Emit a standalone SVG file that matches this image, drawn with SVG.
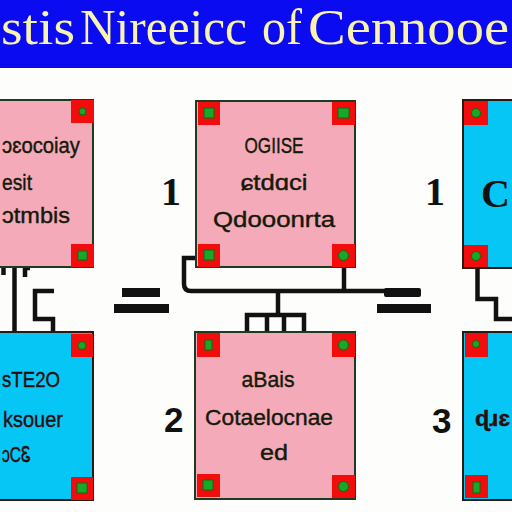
<svg xmlns="http://www.w3.org/2000/svg" width="512" height="512" viewBox="0 0 512 512">
<style>
.pink{fill:#f5aab9;stroke:#1e3a22;stroke-width:2}
.blue{fill:#05c6f5;stroke:#2a1a12;stroke-width:2}
.red{fill:#f20c0c}
.grn{fill:#18a828;stroke:#0c6a14;stroke-width:1}
.t{font-family:"Liberation Sans",Arial,sans-serif;font-size:22px;fill:#141a0a;stroke:#141a0a;stroke-width:0.4}
.tb{font-family:"Liberation Sans",Arial,sans-serif;font-size:22px;fill:#2a0e0e;stroke:#2a0e0e;stroke-width:0.4}
.num{font-family:"Liberation Serif","Times New Roman",serif;font-weight:bold;font-size:40px;fill:#111}
.nums{font-family:"Liberation Sans",Arial,sans-serif;font-weight:bold;font-size:35px;fill:#111}
.title{font-family:"Liberation Serif","Times New Roman",serif;font-size:50px;fill:#f8f4b0}
.w{fill:none;stroke:#111;stroke-width:4.5}
.bar{fill:#111}
</style>
<rect width="512" height="512" fill="#fdfdfb"/>
<g id="title">
<rect x="0" y="0" width="512" height="68" fill="#0b0bf2"/>
<text class="title" x="1" y="44" textLength="74" lengthAdjust="spacingAndGlyphs">stis</text>
<text class="title" x="80" y="44" textLength="167" lengthAdjust="spacingAndGlyphs">Nireeicc</text>
<text class="title" x="262" y="44" textLength="40" lengthAdjust="spacingAndGlyphs" fill="#f6ee80">of</text>
<text class="title" x="308" y="44" textLength="201" lengthAdjust="spacingAndGlyphs">Cennooe</text>
</g>
<g id="connectors">
<line class="w" x1="3.5" y1="267" x2="3.5" y2="275"/>
<path class="w" d="M25,267 V277 M25,268 H30"/>
<line class="w" x1="14.5" y1="267" x2="14.5" y2="332"/>
<path class="w" d="M54,291 H35 V319 H53 V333"/>
<rect class="bar" x="122" y="288" width="38" height="9"/>
<rect class="bar" x="114" y="304" width="55" height="9"/>
<path class="w" d="M196,258 H184 V284 Q184,291 191,291 H386"/>
<line class="w" x1="344" y1="267" x2="344" y2="291"/>
<line class="w" x1="278" y1="291" x2="278" y2="315"/>
<path class="w" d="M247,333 V315 H304 V333 M267,315 V333 M284,315 V333"/>
<rect class="bar" x="384" y="288" width="37" height="9" rx="2"/>
<rect class="bar" x="377" y="304" width="54" height="9"/>
<path class="w" d="M477.5,268 V299 H496 V319 H512"/>
</g>
<g id="n1">
<rect class="pink" x="-5" y="100" width="98" height="167"/>
<rect class="red" x="71" y="100" width="23" height="23"/><circle class="grn" cx="82.5" cy="111.5" r="3.5"/>
<rect class="red" x="71" y="244" width="23" height="23"/><rect class="grn" x="78" y="251" width="9" height="9"/>
<text class="t" x="80" y="153" text-anchor="end" textLength="78" lengthAdjust="spacingAndGlyphs">ɔɛocoiay</text>
<text class="t" x="32" y="190" text-anchor="end" textLength="30" lengthAdjust="spacingAndGlyphs">esit</text>
<text class="t" x="70" y="223" text-anchor="end" textLength="68" lengthAdjust="spacingAndGlyphs">ɔtmbis</text>
</g>
<g id="n2">
<rect class="pink" x="196" y="101" width="159" height="166"/>
<rect class="red" x="198" y="102" width="22" height="23"/><rect class="grn" x="204" y="108" width="10" height="10"/>
<rect class="red" x="332" y="102" width="23" height="23"/><rect class="grn" x="338" y="108" width="11" height="10"/>
<rect class="red" x="198" y="244" width="22" height="23"/><rect class="grn" x="204" y="250" width="10" height="10"/>
<rect class="red" x="332" y="244" width="23" height="23"/><circle class="grn" cx="343.5" cy="255.5" r="5"/>
<text class="t" x="274" y="153" text-anchor="middle" textLength="59" lengthAdjust="spacingAndGlyphs">OGIISE</text>
<text class="t" x="274" y="190" text-anchor="middle" textLength="67" lengthAdjust="spacingAndGlyphs">ɕtdɑci</text>
<text class="t" x="274" y="227" text-anchor="middle" textLength="122" lengthAdjust="spacingAndGlyphs">Qdooonrta</text>
</g>
<g id="n3">
<rect class="blue" x="463" y="100" width="60" height="168"/>
<rect class="red" x="464" y="101" width="24" height="24"/><circle class="grn" cx="476" cy="113" r="4.5"/>
<rect class="red" x="464" y="245" width="24" height="22"/><circle class="grn" cx="476" cy="256" r="4.5"/>
<text x="481" y="207" font-family="Liberation Serif,serif" font-weight="bold" font-size="40" fill="#111" textLength="29" lengthAdjust="spacingAndGlyphs">C</text>
</g>
<g id="n4">
<rect class="blue" x="-5" y="332" width="98" height="168"/>
<rect class="red" x="71" y="334" width="22" height="23"/><circle class="grn" cx="82" cy="345.5" r="4"/>
<rect class="red" x="71" y="477" width="22" height="23"/><rect class="grn" x="77" y="483" width="10" height="10"/>
<text class="tb" x="60" y="387" text-anchor="end" textLength="58" lengthAdjust="spacingAndGlyphs">sTE2O</text>
<text class="tb" x="63" y="427" text-anchor="end" textLength="60" lengthAdjust="spacingAndGlyphs">ksouer</text>
<text class="tb" x="31" y="462" text-anchor="end" textLength="29" lengthAdjust="spacingAndGlyphs">ɔCᏋ</text>
</g>
<g id="n5">
<rect class="pink" x="195" y="332" width="160" height="167"/>
<rect class="red" x="197" y="333" width="23" height="24"/><rect class="grn" x="205" y="340" width="7" height="10"/>
<rect class="red" x="332" y="333" width="23" height="24"/><circle class="grn" cx="343.5" cy="345" r="5"/>
<rect class="red" x="197" y="474" width="23" height="23"/><rect class="grn" x="203" y="480" width="10" height="10"/>
<rect class="red" x="332" y="475" width="23" height="23"/><circle class="grn" cx="343.5" cy="486.5" r="5"/>
<text class="t" x="268" y="387" text-anchor="middle" textLength="53" lengthAdjust="spacingAndGlyphs">aBais</text>
<text class="t" x="269" y="425" text-anchor="middle" textLength="128" lengthAdjust="spacingAndGlyphs">Cotaelocnae</text>
<text class="t" x="274" y="460" text-anchor="middle" textLength="28" lengthAdjust="spacingAndGlyphs">ed</text>
</g>
<g id="n6">
<rect class="blue" x="463" y="332" width="60" height="168"/>
<rect class="red" x="465" y="333" width="23" height="24"/><circle class="grn" cx="476" cy="344" r="3.5"/>
<rect class="red" x="465" y="475" width="23" height="23"/><rect class="grn" x="473" y="482" width="7" height="11"/>
<text class="tb" x="475" y="426" font-size="24" font-weight="bold" textLength="35" lengthAdjust="spacingAndGlyphs">ɖɹɛ</text>
</g>
<g id="labels">
<text class="num" x="161" y="205">1</text>
<text class="num" x="425" y="205">1</text>
<text class="nums" x="164" y="432">2</text>
<text class="nums" x="432" y="433">3</text>
</g>
</svg>
